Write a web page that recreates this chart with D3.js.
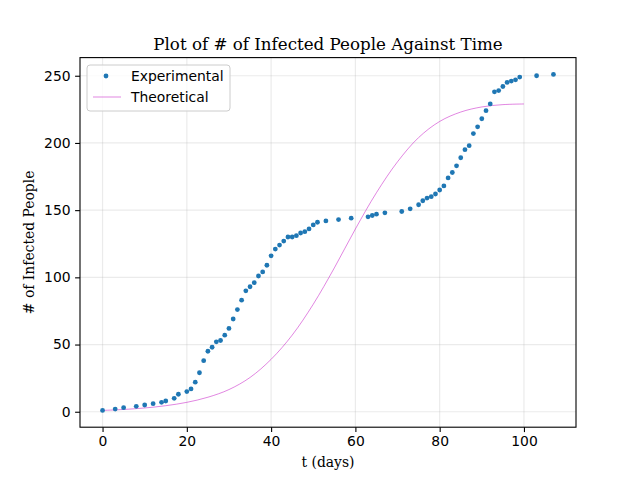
<!DOCTYPE html>
<html>
<head>
<meta charset="utf-8">
<script src="https://cdn.jsdelivr.net/npm/d3@7"></script>
<style>
  body { margin: 0; background: #fff; }
  svg { display: block; }
  .tick text { font-family: "DejaVu Sans", sans-serif; font-size: 13.9px; fill: #000; }
  .serif { font-family: "DejaVu Serif", serif; fill: #000; }
</style>
</head>
<body>
<svg width="640" height="480"></svg>
<script>
const expDays = [0, 3, 5, 8, 10, 12, 14, 15, 17, 18, 20, 21, 22, 23, 24, 25, 26, 27, 28, 29,
  30, 31, 32, 33, 34, 35, 36, 37, 38, 39, 40, 41, 42, 43, 44, 45, 46, 47, 48, 49,
  50, 51, 53, 56, 59, 63, 64, 65, 67, 71, 73, 75, 76, 77, 78, 79, 80, 81, 82, 83,
  84, 85, 86, 87, 88, 89, 90, 91, 92, 93, 94, 95, 96, 97, 98, 99, 103, 107];
const expInfected = [1, 2, 3, 4, 5, 6, 7, 8, 10, 13, 15, 17, 22, 29, 38, 45, 48, 52, 53, 57,
  62, 69, 76, 83, 90, 93, 96, 101, 104, 109, 116, 121, 124, 127, 130, 130, 131, 133, 134, 136,
  139, 141, 142, 143, 144, 145, 146, 147, 148, 149, 151, 154, 157, 159, 160, 162, 165, 168, 174, 178,
  183, 189, 195, 198, 207, 212, 218, 224, 229, 238, 239, 242, 245, 246, 247, 249, 250, 251];

const theoDays = [0, 5, 10, 15, 20, 25, 30, 35, 40, 45, 50, 55, 60, 65, 70, 75, 80, 85, 90, 95, 100];
const theoInfected = [1, 1.7, 2.8, 4.5, 7, 10.8, 16.5, 25.5, 39, 57, 80, 107, 136, 163, 186, 204, 216, 223, 226.8, 228.5, 229];

const xTicks = [0, 20, 40, 60, 80, 100];
const yTicks = [0, 50, 100, 150, 200, 250];

const svg = d3.select("svg");
const margin = { left: 80, right: 576, top: 57.6, bottom: 427.2 };

const x = d3.scaleLinear().domain([-5.35, 112.35]).range([margin.left, margin.right]);
const y = d3.scaleLinear().domain([-11.5, 263.5]).range([margin.bottom, margin.top]);

// grid
svg.append("g")
  .selectAll("line.vg")
  .data(xTicks)
  .join("line")
  .attr("x1", d => x(d)).attr("x2", d => x(d))
  .attr("y1", margin.top).attr("y2", margin.bottom)
  .attr("stroke", "#b0b0b0").attr("stroke-opacity", 0.25).attr("stroke-width", 1.2);
svg.append("g")
  .selectAll("line.hg")
  .data(yTicks)
  .join("line")
  .attr("y1", d => y(d)).attr("y2", d => y(d))
  .attr("x1", margin.left).attr("x2", margin.right)
  .attr("stroke", "#b0b0b0").attr("stroke-opacity", 0.25).attr("stroke-width", 1.2);

// theoretical line
const line = d3.line()
  .x(d => x(d[0]))
  .y(d => y(d[1]))
  .curve(d3.curveCatmullRom.alpha(0.5));
svg.append("path")
  .datum(d3.zip(theoDays, theoInfected))
  .attr("d", line)
  .attr("fill", "none")
  .attr("stroke", "#c000c0")
  .attr("stroke-opacity", 0.8)
  .attr("stroke-width", 0.6);

// experimental points
svg.append("g")
  .selectAll("circle")
  .data(d3.zip(expDays, expInfected))
  .join("circle")
  .attr("cx", d => x(d[0]))
  .attr("cy", d => y(d[1]))
  .attr("r", 2.4)
  .attr("fill", "#1f77b4");

// axes
const xAxis = svg.append("g")
  .attr("transform", `translate(0,${margin.bottom})`)
  .call(d3.axisBottom(x).tickValues(xTicks).tickSize(4.9).tickPadding(4.5).tickFormat(d3.format("d")));
const yAxis = svg.append("g")
  .attr("transform", `translate(${margin.left},0)`)
  .call(d3.axisLeft(y).tickValues(yTicks).tickSize(4.9).tickPadding(4.5).tickFormat(d3.format("d")));
[xAxis, yAxis].forEach(a => {
  a.select(".domain").remove();
  a.selectAll(".tick line").attr("stroke", "#000").attr("stroke-width", 1.1);
});

// frame
svg.append("rect")
  .attr("x", margin.left).attr("y", margin.top)
  .attr("width", margin.right - margin.left)
  .attr("height", margin.bottom - margin.top)
  .attr("fill", "none").attr("stroke", "#000").attr("stroke-width", 1.1);

// labels
svg.append("text")
  .attr("class", "serif")
  .attr("x", (margin.left + margin.right) / 2)
  .attr("y", 50)
  .attr("text-anchor", "middle")
  .attr("font-size", 16.7)
  .text("Plot of # of Infected People Against Time");
svg.append("text")
  .attr("class", "serif")
  .attr("x", (margin.left + margin.right) / 2)
  .attr("y", 467)
  .attr("text-anchor", "middle")
  .attr("font-size", 13.9)
  .text("t (days)");
svg.append("text")
  .attr("class", "serif")
  .attr("transform", `translate(34,${(margin.top + margin.bottom) / 2}) rotate(-90)`)
  .attr("text-anchor", "middle")
  .attr("font-size", 13.9)
  .text("# of Infected People");

// legend
const legend = svg.append("g").attr("transform", "translate(87,65)");
legend.append("rect")
  .attr("width", 143).attr("height", 46).attr("rx", 3)
  .attr("fill", "#fff").attr("fill-opacity", 0.8)
  .attr("stroke", "#cccccc").attr("stroke-width", 1);
legend.append("circle")
  .attr("cx", 19).attr("cy", 11).attr("r", 2.4).attr("fill", "#1f77b4");
legend.append("line")
  .attr("x1", 6).attr("x2", 34).attr("y1", 32).attr("y2", 32)
  .attr("stroke", "#c000c0").attr("stroke-opacity", 0.8).attr("stroke-width", 0.6);
const legendNames = ["Experimental", "Theoretical"];
legend.selectAll("text.leg")
  .data(legendNames)
  .join("text")
  .attr("x", 44)
  .attr("y", (d, i) => 16 + i * 21)
  .attr("font-family", "DejaVu Sans, sans-serif")
  .attr("font-size", 13.9)
  .text(d => d);
</script>
</body>
</html>
